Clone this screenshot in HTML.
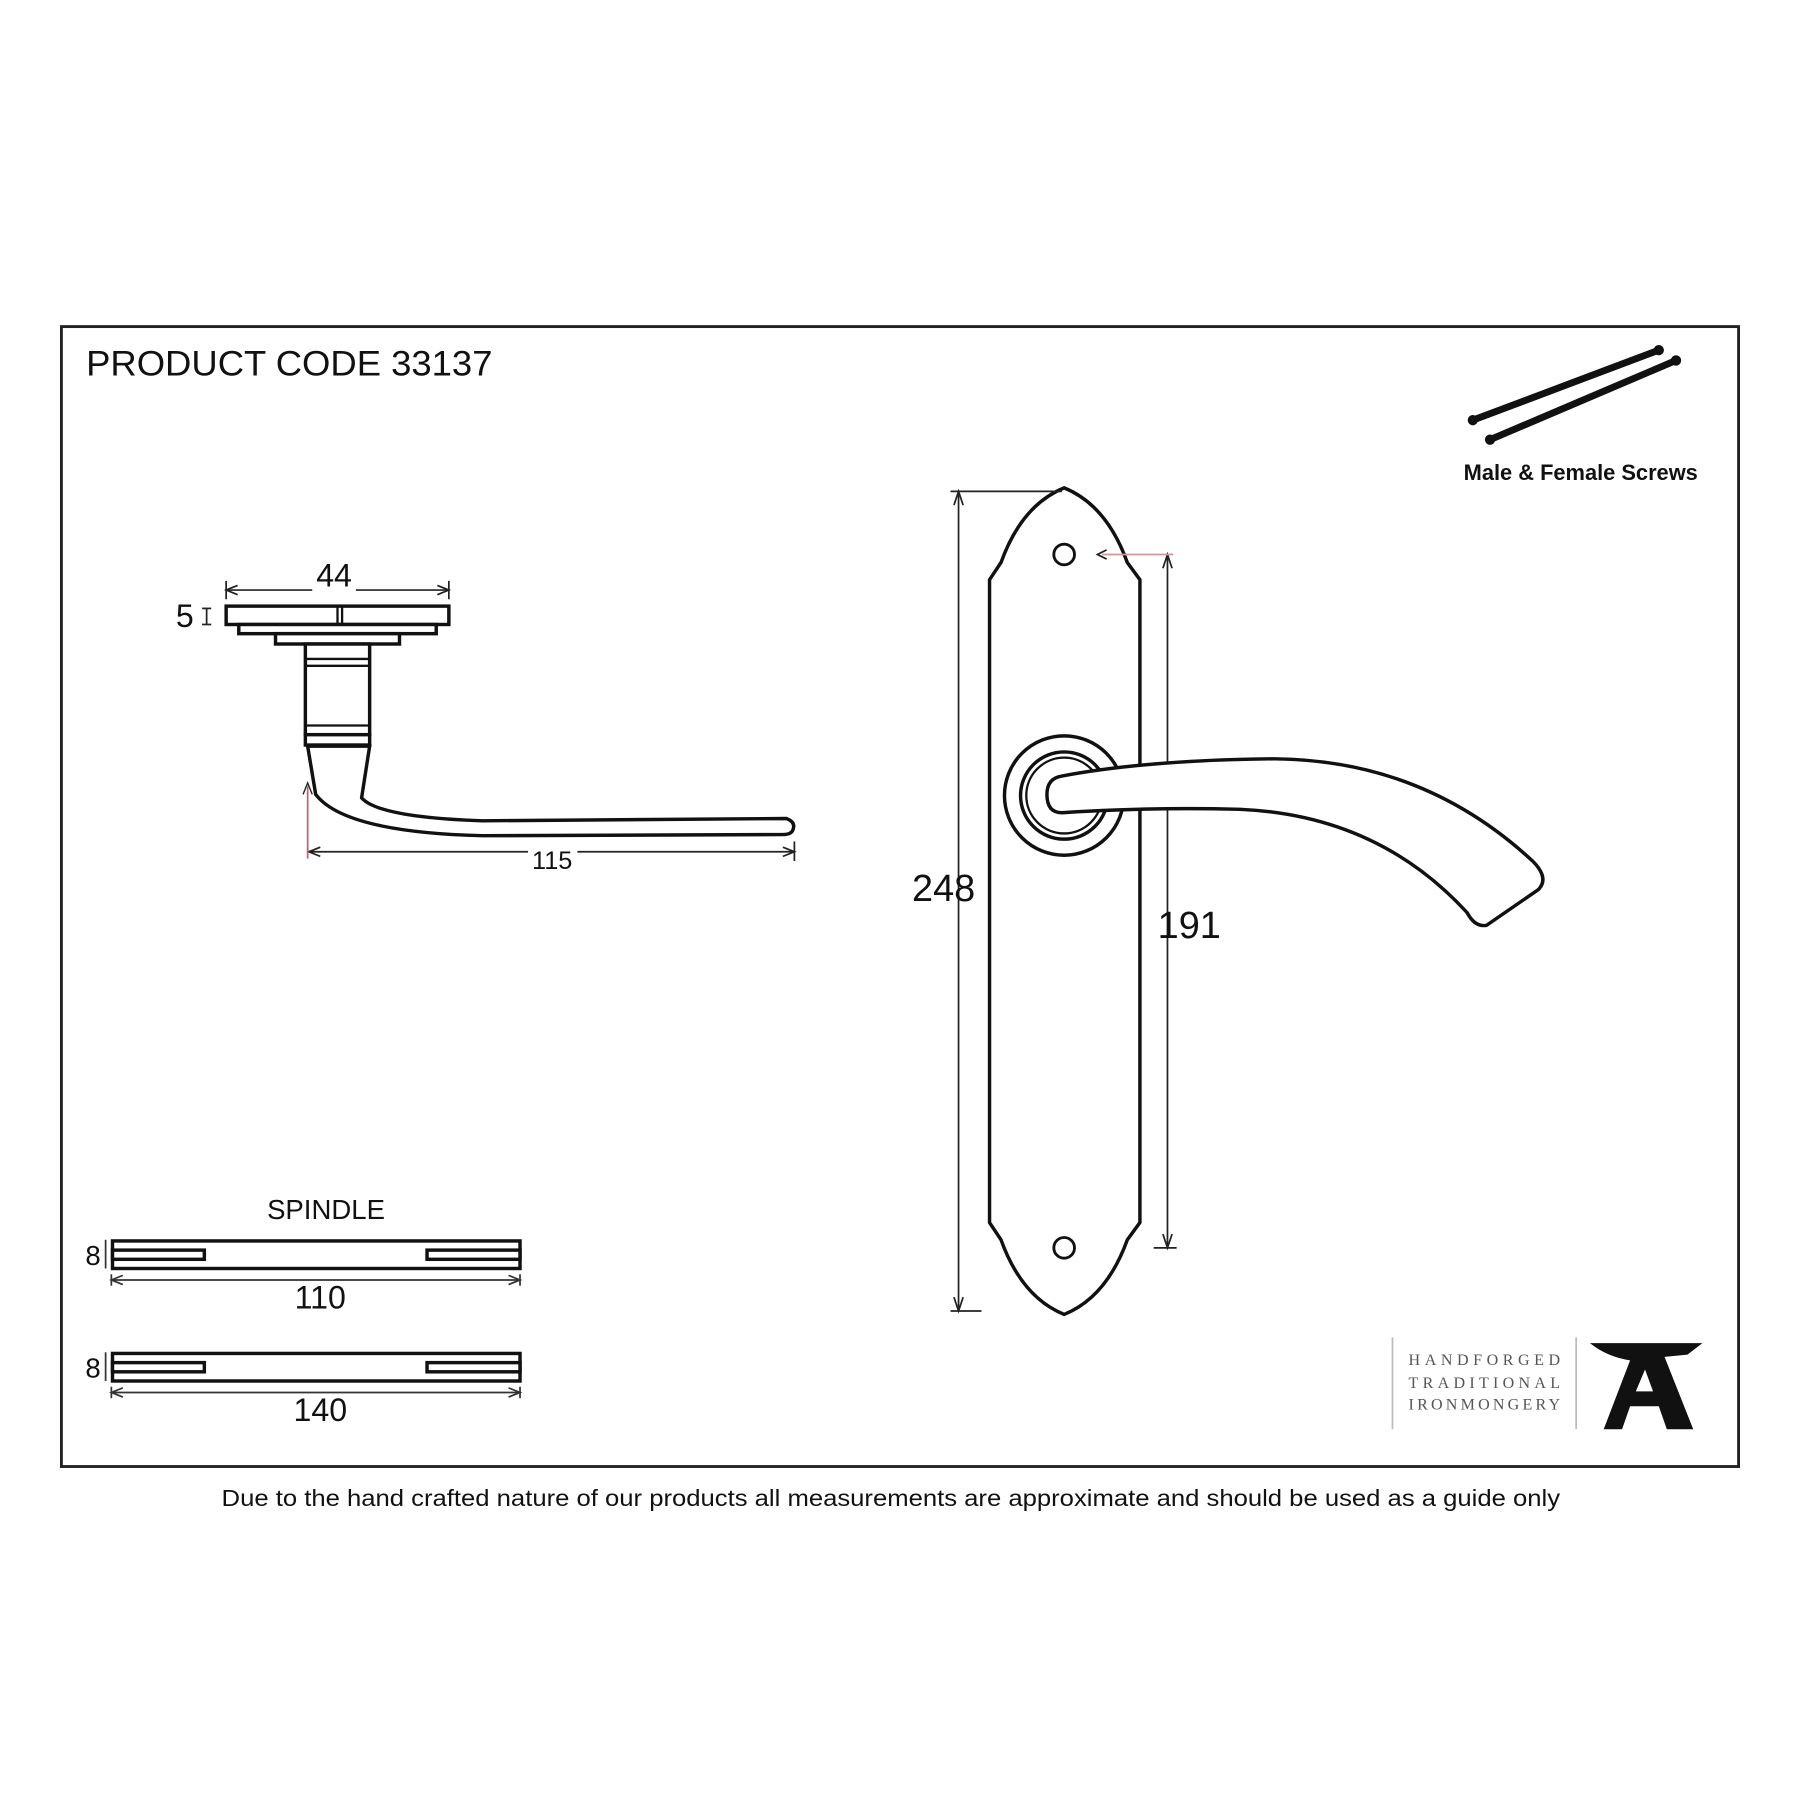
<!DOCTYPE html>
<html><head><style>
html,body{margin:0;padding:0;background:#fff;}
svg{display:block}
</style></head><body>
<svg width="1800" height="1800" viewBox="0 0 1568 1568" xmlns="http://www.w3.org/2000/svg" font-family="Liberation Sans, sans-serif">
<rect x="0" y="0" width="1568" height="1568" fill="#fff"/>
<rect x="53.5" y="284.5" width="1461" height="993" fill="none" stroke="#222" stroke-width="2.5"/>
<text x="75" y="327" font-size="31" fill="#111" textLength="354" lengthAdjust="spacingAndGlyphs">PRODUCT CODE 33137</text>

<!-- screws -->
<g stroke="#111" stroke-linecap="round">
<line x1="1283" y1="366" x2="1445" y2="305" stroke-width="6"/>
<line x1="1298" y1="383" x2="1460" y2="314" stroke-width="6"/>
<circle cx="1283" cy="366" r="4" fill="#111"/><circle cx="1298" cy="383" r="4" fill="#111"/>
<circle cx="1445" cy="305" r="4" fill="#111"/><circle cx="1460" cy="314" r="4" fill="#111"/>
</g>
<text x="1377" y="418" font-size="19" text-anchor="middle" fill="#111" font-weight="bold" textLength="204" lengthAdjust="spacingAndGlyphs">Male &amp; Female Screws</text>

<!-- backplate -->
<path d="M927,425 Q890,440 872,490 L862,505 L862,1065 L872,1080 Q890,1130 927,1145 Q964,1130 982,1080 L993,1065 L993,505 L982,490 Q964,440 927,425 Z" fill="none" stroke="#111" stroke-width="3"/>
<circle cx="927" cy="483" r="9" fill="none" stroke="#111" stroke-width="2.5"/>
<circle cx="927" cy="1087" r="9" fill="none" stroke="#111" stroke-width="2.5"/>
<!-- dims -->
<g stroke="#222" stroke-width="1.5">
<line x1="835" y1="428" x2="835" y2="1142"/>
<line x1="828" y1="428" x2="925" y2="428"/>
<line x1="828" y1="1142" x2="855" y2="1142"/>
<line x1="1017" y1="483" x2="1017" y2="1087"/>
<line x1="1005" y1="1087" x2="1025" y2="1087"/>
</g>
<path d="M831,440 L835,428 L839,440 M831,1130 L835,1142 L839,1130 M1013,495 L1017,483 L1021,495 M1013,1075 L1017,1087 L1021,1075" fill="none" stroke="#222" stroke-width="1.5"/>
<line x1="960" y1="483" x2="1022" y2="483" stroke="#c99" stroke-width="1.5"/>
<path d="M964,479 L956,483 L964,487" fill="none" stroke="#222" stroke-width="1.5"/>
<text x="822" y="785" font-size="33" text-anchor="middle" fill="#111">248</text>
<text x="1036" y="817" font-size="33" text-anchor="middle" fill="#111">191</text>

<!-- rose -->
<circle cx="927" cy="693" r="52" fill="#fff" stroke="#111" stroke-width="3"/>
<circle cx="927" cy="693" r="38" fill="none" stroke="#111" stroke-width="3"/>
<circle cx="927" cy="693" r="33" fill="none" stroke="#111" stroke-width="2"/>
<!-- lever -->
<path d="M925,676 Q1000,662 1110,661 Q1240,662 1335,750 Q1350,765 1340,775 L1295,806 Q1285,808 1278,795 Q1200,710 1080,705 Q1000,703 925,708 Q912,708 912,692 Q912,678 925,676 Z" fill="#fff" stroke="#111" stroke-width="3"/>

<!-- left handle -->
<g fill="#fff" stroke="#111" stroke-width="3">
<rect x="197" y="528" width="194" height="16"/>
<rect x="208" y="544" width="172" height="8"/>
<rect x="240" y="552" width="108" height="9"/>
<rect x="266" y="561" width="56" height="79"/>
<rect x="266" y="640" width="56" height="9"/>
<path d="M268,650 L322,650 L315,695 Q330,712 420,715 L685,713 Q693,716 691,722 Q690,727 682,727 L420,728 Q300,725 275,692 Z"/>
</g>
<g stroke="#111" stroke-width="2" fill="none">
<line x1="294" y1="528" x2="294" y2="544"/><line x1="298" y1="528" x2="298" y2="544"/>
<line x1="266" y1="574" x2="322" y2="574"/><line x1="266" y1="580" x2="322" y2="580"/>
<line x1="266" y1="632" x2="322" y2="632"/>
</g>
<g stroke="#222" stroke-width="1.5" fill="none">
<line x1="197" y1="514" x2="272" y2="514"/><line x1="310" y1="514" x2="391" y2="514"/>
<line x1="197" y1="506" x2="197" y2="522"/><line x1="391" y1="506" x2="391" y2="522"/>
<path d="M207,510 L197,514 L207,518 M381,510 L391,514 L381,518"/>
<line x1="180" y1="530" x2="180" y2="544"/><line x1="176" y1="530" x2="184" y2="530"/><line x1="176" y1="544" x2="184" y2="544"/>
<line x1="269" y1="742" x2="460" y2="742"/><line x1="503" y1="742" x2="692" y2="742"/>
<line x1="692" y1="733" x2="692" y2="750"/>
<path d="M279,738 L269,742 L279,746 M682,738 L692,742 L682,746"/>
</g>
<line x1="268" y1="685" x2="268" y2="748" stroke="#b66" stroke-width="1.5"/>
<path d="M264,692 L268,682 L272,692" fill="none" stroke="#222" stroke-width="1.2"/>
<text x="291" y="511" font-size="28" text-anchor="middle" fill="#111">44</text>
<text x="161" y="546" font-size="28" text-anchor="middle" fill="#111">5</text>
<text x="481" y="757" font-size="22" text-anchor="middle" fill="#111">115</text>

<!-- spindle -->
<text x="284" y="1062" font-size="24" text-anchor="middle" fill="#111">SPINDLE</text>
<g fill="none" stroke="#111" stroke-width="3">
<rect x="98" y="1081" width="355" height="24"/>
<rect x="98" y="1089" width="80" height="8" fill="#fff"/>
<rect x="372" y="1089" width="81" height="8" fill="#fff"/>
<rect x="98" y="1179" width="355" height="24"/>
<rect x="98" y="1187" width="80" height="8" fill="#fff"/>
<rect x="372" y="1187" width="81" height="8" fill="#fff"/>
</g>
<g stroke="#333" stroke-width="1.5" fill="none">
<line x1="97" y1="1115" x2="453" y2="1115"/><line x1="97" y1="1110" x2="97" y2="1120"/><line x1="453" y1="1110" x2="453" y2="1120"/>
<path d="M107,1111 L97,1115 L107,1119 M443,1111 L453,1115 L443,1119"/>
<line x1="97" y1="1213" x2="453" y2="1213"/><line x1="97" y1="1208" x2="97" y2="1218"/><line x1="453" y1="1208" x2="453" y2="1218"/>
<path d="M107,1209 L97,1213 L107,1217 M443,1209 L453,1213 L443,1217"/>
<line x1="92" y1="1080" x2="92" y2="1105"/><line x1="92" y1="1178" x2="92" y2="1203"/>
</g>
<text x="81" y="1102" font-size="24" text-anchor="middle" fill="#111">8</text>
<text x="81" y="1200" font-size="24" text-anchor="middle" fill="#111">8</text>
<text x="279" y="1140" font-size="28" text-anchor="middle" fill="#111">110</text>
<text x="279" y="1238" font-size="28" text-anchor="middle" fill="#111">140</text>

<!-- logo -->
<line x1="1213" y1="1165" x2="1213" y2="1245" stroke="#bbb" stroke-width="1.5"/>
<line x1="1373" y1="1165" x2="1373" y2="1245" stroke="#bbb" stroke-width="1.5"/>
<g font-family="Liberation Serif, serif" font-size="14" fill="#555" text-anchor="middle">
<text x="1293" y="1189" textLength="132" lengthAdjust="spacing">HANDFORGED</text>
<text x="1293" y="1209" textLength="132" lengthAdjust="spacing">TRADITIONAL</text>
<text x="1293" y="1228" textLength="132" lengthAdjust="spacing">IRONMONGERY</text>
</g>
<path d="M1385,1170 L1483,1170 L1470,1180 L1450,1182 L1475,1245 L1452,1245 L1445,1225 L1420,1225 L1413,1245 L1397,1245 L1420,1185 Q1400,1182 1385,1170 Z M1425,1212 L1440,1212 L1433,1193 Z" fill="#111" fill-rule="evenodd"/>

<text x="776" y="1312" font-size="20" text-anchor="middle" fill="#111" textLength="1166" lengthAdjust="spacingAndGlyphs">Due to the hand crafted nature of our products all measurements are approximate and should be used as a guide only</text>
</svg>
</body></html>
